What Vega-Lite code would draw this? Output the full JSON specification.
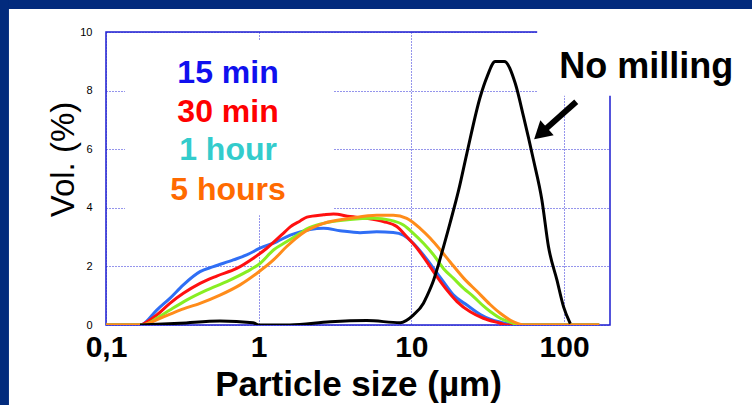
{
  "$schema": "https://vega.github.io/schema/vega-lite/v6.json",
  "width": 504,
  "height": 293,
  "autosize": {"type": "none"},
  "padding": {"left": 106, "top": 32, "right": 142, "bottom": 80},
  "background": "white",
  "datasets": {
    "curves": [
      {"series": "15 min", "x": 0.1, "y": 0}, {"series": "15 min", "x": 0.17, "y": 0}, {"series": "15 min", "x": 0.175, "y": 0.03}, {"series": "15 min", "x": 0.215, "y": 0.51}, {"series": "15 min", "x": 0.262, "y": 0.91}, {"series": "15 min", "x": 0.321, "y": 1.37}, {"series": "15 min", "x": 0.413, "y": 1.82}, {"series": "15 min", "x": 0.505, "y": 1.99}, {"series": "15 min", "x": 0.682, "y": 2.22}, {"series": "15 min", "x": 0.835, "y": 2.39}, {"series": "15 min", "x": 1.02, "y": 2.62}, {"series": "15 min", "x": 1.31, "y": 2.84}, {"series": "15 min", "x": 1.61, "y": 3.07}, {"series": "15 min", "x": 1.87, "y": 3.18}, {"series": "15 min", "x": 2.17, "y": 3.26}, {"series": "15 min", "x": 2.66, "y": 3.3}, {"series": "15 min", "x": 3.41, "y": 3.22}, {"series": "15 min", "x": 4.61, "y": 3.15}, {"series": "15 min", "x": 5.93, "y": 3.18}, {"series": "15 min", "x": 7.62, "y": 3.16}, {"series": "15 min", "x": 8.87, "y": 3.07}, {"series": "15 min", "x": 10.3, "y": 2.79}, {"series": "15 min", "x": 12.0, "y": 2.39}, {"series": "15 min", "x": 14.0, "y": 1.93}, {"series": "15 min", "x": 16.2, "y": 1.48}, {"series": "15 min", "x": 18.9, "y": 1.02}, {"series": "15 min", "x": 23.1, "y": 0.68}, {"series": "15 min", "x": 28.3, "y": 0.36}, {"series": "15 min", "x": 32.8, "y": 0.2}, {"series": "15 min", "x": 38.2, "y": 0.1}, {"series": "15 min", "x": 45, "y": 0.02}, {"series": "15 min", "x": 50, "y": 0}, {"series": "15 min", "x": 170, "y": 0},
      {"series": "30 min", "x": 0.1, "y": 0}, {"series": "30 min", "x": 0.17, "y": 0}, {"series": "30 min", "x": 0.175, "y": 0.03}, {"series": "30 min", "x": 0.215, "y": 0.34}, {"series": "30 min", "x": 0.262, "y": 0.74}, {"series": "30 min", "x": 0.321, "y": 1.08}, {"series": "30 min", "x": 0.413, "y": 1.42}, {"series": "30 min", "x": 0.531, "y": 1.67}, {"series": "30 min", "x": 0.718, "y": 1.93}, {"series": "30 min", "x": 0.922, "y": 2.28}, {"series": "30 min", "x": 1.13, "y": 2.62}, {"series": "30 min", "x": 1.45, "y": 3.13}, {"series": "30 min", "x": 1.61, "y": 3.35}, {"series": "30 min", "x": 1.87, "y": 3.55}, {"series": "30 min", "x": 2.07, "y": 3.68}, {"series": "30 min", "x": 2.66, "y": 3.76}, {"series": "30 min", "x": 3.09, "y": 3.79}, {"series": "30 min", "x": 3.97, "y": 3.7}, {"series": "30 min", "x": 5.1, "y": 3.64}, {"series": "30 min", "x": 6.56, "y": 3.53}, {"series": "30 min", "x": 8.02, "y": 3.36}, {"series": "30 min", "x": 9.33, "y": 3.01}, {"series": "30 min", "x": 10.9, "y": 2.62}, {"series": "30 min", "x": 12.6, "y": 2.16}, {"series": "30 min", "x": 14.7, "y": 1.65}, {"series": "30 min", "x": 17.1, "y": 1.19}, {"series": "30 min", "x": 19.9, "y": 0.8}, {"series": "30 min", "x": 24.3, "y": 0.45}, {"series": "30 min", "x": 29.6, "y": 0.23}, {"series": "30 min", "x": 38.2, "y": 0.06}, {"series": "30 min", "x": 42, "y": 0}, {"series": "30 min", "x": 170, "y": 0},
      {"series": "1 hour", "x": 0.1, "y": 0}, {"series": "1 hour", "x": 0.175, "y": 0}, {"series": "1 hour", "x": 0.215, "y": 0.23}, {"series": "1 hour", "x": 0.262, "y": 0.51}, {"series": "1 hour", "x": 0.337, "y": 0.85}, {"series": "1 hour", "x": 0.456, "y": 1.19}, {"series": "1 hour", "x": 0.617, "y": 1.48}, {"series": "1 hour", "x": 0.835, "y": 1.82}, {"series": "1 hour", "x": 1.02, "y": 2.1}, {"series": "1 hour", "x": 1.25, "y": 2.56}, {"series": "1 hour", "x": 1.52, "y": 2.84}, {"series": "1 hour", "x": 1.87, "y": 3.13}, {"series": "1 hour", "x": 2.07, "y": 3.28}, {"series": "1 hour", "x": 2.66, "y": 3.47}, {"series": "1 hour", "x": 3.97, "y": 3.6}, {"series": "1 hour", "x": 5.65, "y": 3.64}, {"series": "1 hour", "x": 7.26, "y": 3.58}, {"series": "1 hour", "x": 8.87, "y": 3.41}, {"series": "1 hour", "x": 10.3, "y": 3.13}, {"series": "1 hour", "x": 12.0, "y": 2.79}, {"series": "1 hour", "x": 14.0, "y": 2.39}, {"series": "1 hour", "x": 16.2, "y": 1.93}, {"series": "1 hour", "x": 18.9, "y": 1.59}, {"series": "1 hour", "x": 22.0, "y": 1.25}, {"series": "1 hour", "x": 25.5, "y": 0.97}, {"series": "1 hour", "x": 29.6, "y": 0.65}, {"series": "1 hour", "x": 33, "y": 0.45}, {"series": "1 hour", "x": 38.2, "y": 0.23}, {"series": "1 hour", "x": 46.7, "y": 0.06}, {"series": "1 hour", "x": 50, "y": 0}, {"series": "1 hour", "x": 170, "y": 0},
      {"series": "5 hours", "x": 0.1, "y": 0}, {"series": "5 hours", "x": 0.17, "y": 0}, {"series": "5 hours", "x": 0.226, "y": 0.23}, {"series": "5 hours", "x": 0.305, "y": 0.51}, {"series": "5 hours", "x": 0.413, "y": 0.74}, {"series": "5 hours", "x": 0.558, "y": 1.02}, {"series": "5 hours", "x": 0.755, "y": 1.37}, {"series": "5 hours", "x": 0.97, "y": 1.76}, {"series": "5 hours", "x": 1.25, "y": 2.22}, {"series": "5 hours", "x": 1.52, "y": 2.67}, {"series": "5 hours", "x": 1.96, "y": 3.15}, {"series": "5 hours", "x": 2.66, "y": 3.47}, {"series": "5 hours", "x": 3.97, "y": 3.64}, {"series": "5 hours", "x": 5.93, "y": 3.75}, {"series": "5 hours", "x": 7.62, "y": 3.75}, {"series": "5 hours", "x": 9.33, "y": 3.64}, {"series": "5 hours", "x": 11.4, "y": 3.3}, {"series": "5 hours", "x": 13.3, "y": 2.96}, {"series": "5 hours", "x": 15.5, "y": 2.56}, {"series": "5 hours", "x": 17.9, "y": 2.16}, {"series": "5 hours", "x": 22.0, "y": 1.6}, {"series": "5 hours", "x": 26.9, "y": 1.15}, {"series": "5 hours", "x": 32.8, "y": 0.7}, {"series": "5 hours", "x": 38.2, "y": 0.4}, {"series": "5 hours", "x": 46.7, "y": 0.11}, {"series": "5 hours", "x": 52, "y": 0.02}, {"series": "5 hours", "x": 55, "y": 0}, {"series": "5 hours", "x": 170, "y": 0},
      {"series": "No milling", "x": 0.167, "y": 0}, {"series": "No milling", "x": 0.305, "y": 0.06}, {"series": "No milling", "x": 0.558, "y": 0.14}, {"series": "No milling", "x": 0.918, "y": 0.08}, {"series": "No milling", "x": 1.0, "y": 0}, {"series": "No milling", "x": 1.6, "y": 0}, {"series": "No milling", "x": 2.94, "y": 0.11}, {"series": "No milling", "x": 5.1, "y": 0.15}, {"series": "No milling", "x": 8.45, "y": 0.08}, {"series": "No milling", "x": 10.3, "y": 0.34}, {"series": "No milling", "x": 12.0, "y": 0.74}, {"series": "No milling", "x": 12.6, "y": 0.97}, {"series": "No milling", "x": 14.0, "y": 1.54}, {"series": "No milling", "x": 15.8, "y": 2.45}, {"series": "No milling", "x": 17.9, "y": 3.47}, {"series": "No milling", "x": 20.4, "y": 4.6}, {"series": "No milling", "x": 23.1, "y": 5.86}, {"series": "No milling", "x": 28.3, "y": 7.8}, {"series": "No milling", "x": 31.3, "y": 8.47}, {"series": "No milling", "x": 35.4, "y": 8.99}, {"series": "No milling", "x": 40.6, "y": 8.99}, {"series": "No milling", "x": 47.9, "y": 8.25}, {"series": "No milling", "x": 54.3, "y": 7.11}, {"series": "No milling", "x": 63.1, "y": 5.63}, {"series": "No milling", "x": 71.6, "y": 4.27}, {"series": "No milling", "x": 79.1, "y": 2.67}, {"series": "No milling", "x": 89.8, "y": 1.54}, {"series": "No milling", "x": 99.3, "y": 0.62}, {"series": "No milling", "x": 109.9, "y": 0.05}
    ],
    "masks": [
      {"x": 0.1332, "x2": 3.073, "y": 3.75, "y2": 9.73},
      {"x": 66.7, "x2": 260, "y": 7.82, "y2": 11}
    ],
    "strips": [
      {"x": 0.01, "x2": 100000, "y": 10.785, "y2": 11.6},
      {"x": 0.0202, "x2": 0.02314, "y": -3, "y2": 11.6}
    ],
    "arrow": [
      {"x": 120.2, "y": 7.62, "x2": 72.5, "y2": 6.6}
    ],
    "labels": [
      {"label": "15 min", "x": 0.63, "y": 8.26},
      {"label": "30 min", "x": 0.63, "y": 6.93},
      {"label": "1 hour", "x": 0.63, "y": 5.63},
      {"label": "5 hours", "x": 0.63, "y": 4.27}
    ],
    "note": [
      {"label": "No milling", "x": 346, "y": 8.42}
    ]
  },
  "layer": [
    {
      "data": {"name": "masks"},
      "mark": {"type": "rect", "fill": "white", "stroke": null},
      "encoding": {
        "x": {"field": "x", "type": "quantitative", "scale": {"type": "log", "domain": [0.1, 200], "nice": false}, "axis": {"title": "Particle size (µm)", "values": [0.1, 1, 10, 100]}},
        "x2": {"field": "x2"},
        "y": {"field": "y", "type": "quantitative", "scale": {"domain": [0, 10], "nice": false, "zero": false}, "axis": {"title": "Vol. (%)", "values": [0, 2, 4, 6, 8, 10]}},
        "y2": {"field": "y2"}
      }
    },
    {
      "data": {"name": "strips"},
      "mark": {"type": "rect", "fill": "#022b7d", "stroke": null},
      "encoding": {
        "x": {"field": "x", "type": "quantitative", "scale": {"type": "log", "domain": [0.1, 200], "nice": false}, "axis": {"title": "Particle size (µm)", "values": [0.1, 1, 10, 100]}},
        "x2": {"field": "x2"},
        "y": {"field": "y", "type": "quantitative", "scale": {"domain": [0, 10], "nice": false, "zero": false}, "axis": {"title": "Vol. (%)", "values": [0, 2, 4, 6, 8, 10]}},
        "y2": {"field": "y2"}
      }
    },
    {
      "data": {"name": "curves"},
      "mark": {"type": "line", "strokeWidth": 3, "interpolate": "monotone", "clip": true},
      "encoding": {
        "x": {"field": "x", "type": "quantitative", "scale": {"type": "log", "domain": [0.1, 200], "nice": false}, "axis": {"title": "Particle size (µm)", "values": [0.1, 1, 10, 100]}},
        "y": {"field": "y", "type": "quantitative", "scale": {"domain": [0, 10], "nice": false, "zero": false}, "axis": {"title": "Vol. (%)", "values": [0, 2, 4, 6, 8, 10]}},
        "color": {"field": "series", "type": "nominal", "legend": null,
          "scale": {"domain": ["15 min", "30 min", "1 hour", "5 hours", "No milling"], "range": ["#2f6ef5", "#ff1010", "#88ee22", "#ff8c1a", "#000000"]}}
      }
    },
    {
      "data": {"name": "arrow"},
      "mark": {"type": "rule", "strokeWidth": 6, "color": "black", "strokeCap": "butt"},
      "encoding": {
        "x": {"field": "x", "type": "quantitative", "scale": {"type": "log", "domain": [0.1, 200], "nice": false}},
        "x2": {"field": "x2"},
        "y": {"field": "y", "type": "quantitative", "scale": {"domain": [0, 10], "nice": false, "zero": false}},
        "y2": {"field": "y2"}
      }
    },
    {
      "data": {"name": "arrow"},
      "mark": {"type": "point", "shape": "triangle", "filled": true, "color": "black", "size": 400, "angle": 228, "opacity": 1},
      "encoding": {
        "x": {"field": "x2", "type": "quantitative", "scale": {"type": "log", "domain": [0.1, 200], "nice": false}},
        "y": {"field": "y2", "type": "quantitative", "scale": {"domain": [0, 10], "nice": false, "zero": false}}
      }
    },
    {
      "data": {"name": "labels"},
      "mark": {"type": "text", "font": "Liberation Sans", "fontWeight": "bold", "fontSize": 32, "align": "center", "baseline": "alphabetic"},
      "encoding": {
        "x": {"field": "x", "type": "quantitative", "scale": {"type": "log", "domain": [0.1, 200], "nice": false}},
        "y": {"field": "y", "type": "quantitative", "scale": {"domain": [0, 10], "nice": false, "zero": false}},
        "text": {"field": "label"},
        "fill": {"field": "label", "type": "nominal", "legend": null,
          "scale": {"domain": ["15 min", "30 min", "1 hour", "5 hours"], "range": ["#1010ee", "#ff0000", "#33cccc", "#ff6a00"]}}
      }
    },
    {
      "data": {"name": "note"},
      "mark": {"type": "text", "font": "Liberation Sans", "fontWeight": "bold", "fontSize": 36, "align": "center", "baseline": "alphabetic", "color": "black"},
      "encoding": {
        "x": {"field": "x", "type": "quantitative", "scale": {"type": "log", "domain": [0.1, 200], "nice": false}},
        "y": {"field": "y", "type": "quantitative", "scale": {"domain": [0, 10], "nice": false, "zero": false}},
        "text": {"field": "label"}
      }
    }
  ],
  "resolve": {"scale": {"color": "independent", "fill": "independent"}},
  "config": {
    "view": {"stroke": "#1c1cd0", "strokeWidth": 1.5},
    "axis": {
      "domain": false,
      "ticks": false,
      "grid": true,
      "gridColor": "#2a2ad8",
      "gridDash": [1, 2],
      "gridWidth": 1,
      "gridOpacity": 1,
      "labelColor": "#000000",
      "titleColor": "#000000",
      "labelFont": "Liberation Sans",
      "titleFont": "Liberation Sans"
    },
    "axisX": {
      "labelFontSize": 30,
      "labelFontWeight": "bold",
      "labelPadding": 7,
      "labelFlush": false,
      "labelExpr": "replace(datum.label, '.', ',')",
      "titleFontSize": 35,
      "titleFontWeight": "bold",
      "titleBaseline": "alphabetic",
      "titleY": 70
    },
    "axisY": {
      "labelFontSize": 11,
      "labelPadding": 14,
      "titleFontSize": 33,
      "titleFontWeight": "normal",
      "titleBaseline": "alphabetic",
      "titleX": -33,
      "titleY": 127
    }
  }
}
